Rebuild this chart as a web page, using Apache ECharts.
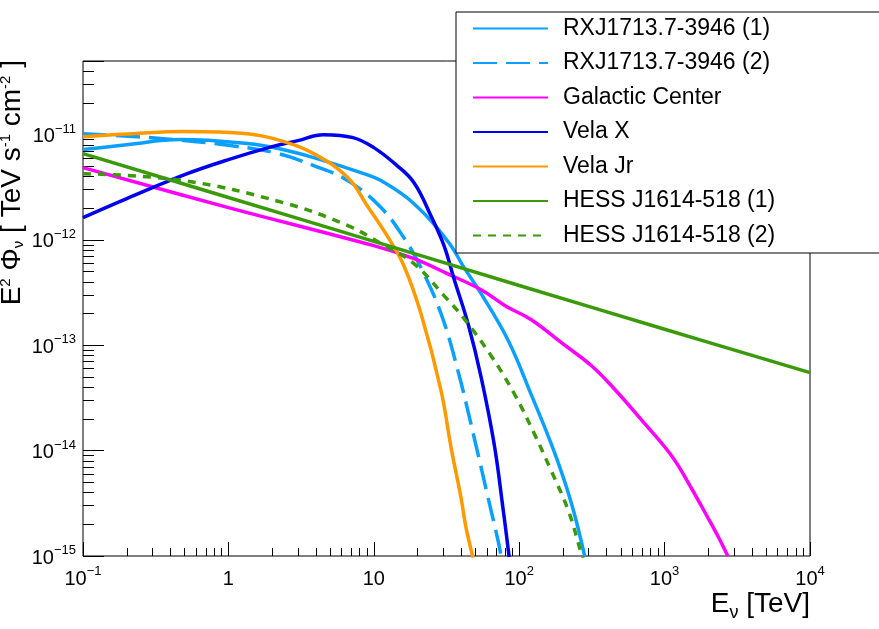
<!DOCTYPE html>
<html>
<head>
<meta charset="utf-8">
<script src="https://cdn.jsdelivr.net/npm/echarts@6/dist/echarts.min.js"></script>
<style>
  html, body { margin: 0; padding: 0; background: #fff; }
  #container { width: 879px; height: 629px; }
</style>
</head>
<body>
<div id="container"></div>
<script>
// legend names
var seriesNames = ['RXJ1713.7-3946 (1)', 'RXJ1713.7-3946 (2)', 'Galactic Center', 'Vela X', 'Vela Jr', 'HESS J1614-518 (1)', 'HESS J1614-518 (2)'];

// energies [TeV] and E^2 flux [TeV s^-1 cm^-2]
var eRxj1 = [0.1, 0.2, 0.467, 1.35, 2.28, 3.86, 8.53, 11.2, 18.9, 32.4, 41.8, 54.7, 84, 121, 174, 228, 283];
var fRxj1 = [7.21e-12, 8.03e-12, 8.97e-12, 8.22e-12, 7.3e-12, 6.05e-12, 4.27e-12, 3.66e-12, 2.21e-12, 9.64e-13, 5.46e-13, 3.09e-13, 1.11e-13, 3.4e-14, 9.77e-15, 3.2e-15, 0.98e-15];

var eRxj2 = [0.1, 0.356, 1.03, 2.2, 3.86, 6.62, 11.2, 16.1, 21.1, 29.0, 37.9, 49, 61.1, 71.6, 75];
var fRxj2 = [1.02e-11, 9.16e-12, 7.87e-12, 6.6e-12, 5.08e-12, 3.66e-12, 2.03e-12, 1.05e-12, 5.46e-13, 2.0e-13, 5.74e-14, 1.33e-14, 3.57e-15, 1.39e-15, 1.0e-15];

var eGc = [0.1, 1, 10, 18.9, 32, 54.7, 80, 121, 195, 314, 431, 693, 1117, 1535, 1950, 2357, 2718];
var fGc = [4.86e-12, 2.03e-12, 8.83e-13, 6.64e-13, 4.79e-13, 3.37e-13, 2.38e-13, 1.75e-13, 1.06e-13, 6.4e-14, 4.13e-14, 1.96e-14, 8.94e-15, 4.35e-15, 2.41e-15, 1.49e-15, 1.0e-15];

var eVelaX = [0.1, 0.2, 0.5, 1, 2, 3, 4.5, 7.2, 10, 14.2, 18.9, 24.7, 30.4, 35.6, 44.5, 54.7, 67.3, 77.6, 85.3];
var fVelaX = [1.63e-12, 2.47e-12, 4.17e-12, 5.79e-12, 7.69e-12, 8.77e-12, 1.0e-11, 9.37e-12, 7.53e-12, 5.19e-12, 3.5e-12, 1.7e-12, 8.83e-13, 4.29e-13, 1.6e-13, 5.0e-14, 1.15e-14, 2.75e-15, 0.98e-15];

var eVelaJr = [0.1, 0.22, 0.49, 1.35, 2.29, 3.86, 6.62, 9.1, 12.7, 16.1, 21.1, 29.0, 34.0, 39.8, 43.1, 48.2];
var fVelaJr = [9.57e-12, 1.02e-11, 1.07e-11, 1.02e-11, 8.77e-12, 6.6e-12, 3.91e-12, 2.07e-12, 1.03e-12, 5.7e-13, 2.0e-13, 3.71e-14, 1.07e-14, 3.57e-15, 1.85e-15, 0.96e-15];

var eHess1 = [0.1, 1, 10, 100, 1000, 10000];
var fHess1 = [6.6e-12, 2.53e-12, 9.7e-13, 3.7e-13, 1.42e-13, 5.5e-14];

var eHess2 = [0.1, 0.49, 2.39, 6.62, 11.2, 18.9, 30.4, 41.8, 64.1, 92.5, 127, 166, 218, 268, 276];
var fHess2 = [4.26e-12, 3.66e-12, 2.26e-12, 1.37e-12, 9.23e-13, 5.96e-13, 2.96e-13, 1.79e-13, 7.96e-14, 3.47e-14, 1.45e-14, 6.44e-15, 2.69e-15, 1.05e-15, 0.95e-15];

var xMin = 0.1, xMax = 10000;
var yMin = 1e-15, yMax = 5e-11;

var FONT = '"Liberation Sans", Arial, Helvetica, sans-serif';

function zip(xs, ys) {
  return xs.map(function (x, i) { return [x, ys[i]]; });
}

// minor ticks at 2..9 of every decade, in log10 units
function minorTicks(lo, hi) {
  var out = [];
  for (var d = Math.floor(lo); d < Math.ceil(hi); d++) {
    for (var m = 2; m <= 9; m++) {
      var v = d + Math.log10(m);
      if (v > lo && v < hi - 1e-3) out.push(v);
    }
  }
  return out;
}

function powLabel(v, plainSmall) {
  var e = Math.log10(v);
  var r = Math.round(e);
  if (Math.abs(e - r) > 1e-6) return '';
  if (plainSmall && r === 0) return '{b|1}';
  if (plainSmall && r === 1) return '{b|10}';
  return '{b|10}{s|' + (r < 0 ? '\u2212' : '') + Math.abs(r) + '}';
}

var tickRich = {
  b: { fontSize: 20, fontFamily: FONT, color: '#000', lineHeight: 24, verticalAlign: 'bottom' },
  s: { fontSize: 13, fontFamily: FONT, color: '#000', lineHeight: 24, verticalAlign: 'top' }
};

var lightBlue = '#0aa0ff';

function lineSeries(name, xs, ys, color, type) {
  return {
    name: name,
    type: 'line',
    xAxisIndex: 0,
    yAxisIndex: 0,
    data: zip(xs, ys),
    showSymbol: false,
    symbol: 'none',
    smooth: 0.4,
    clip: true,
    lineStyle: { color: color, width: 3.5, type: type || 'solid' },
    itemStyle: { color: color }
  };
}

var dom = document.getElementById('container');
var myChart = echarts.init(dom, null, { renderer: 'canvas' });

var option = {
  animation: false,
  backgroundColor: '#fff',
  grid: {
    left: 83, right: 69, top: 61, bottom: 73,
    show: true, borderColor: '#000', borderWidth: 1, backgroundColor: 'transparent'
  },
  legend: {
    orient: 'vertical',
    left: 456,
    top: 12,
    selectedMode: false,
    backgroundColor: '#fff',
    borderColor: '#000',
    borderWidth: 1,
    padding: [5, 130, 6, 16],
    itemWidth: 75,
    itemHeight: 14,
    itemGap: 11.5,
    itemStyle: { opacity: 0 },
    textStyle: { fontSize: 23, fontFamily: FONT, color: '#000', lineHeight: 22, padding: [0, 0, 0, 10] },
    data: seriesNames
  },
  xAxis: [
    {
      type: 'log',
      min: xMin, max: xMax,
      position: 'bottom',
      axisLine: { show: false, onZero: false },
      splitLine: { show: false },
      axisTick: { show: true, inside: true, length: 14, lineStyle: { color: '#000', width: 1 } },
      axisLabel: {
        margin: 9,
        formatter: function (v) { return powLabel(v, true); },
        rich: tickRich
      },
      name: '{t|E}{sub|\u03bd}{t| [TeV]}',
      nameLocation: 'end',
      nameGap: 0,
      nameTextStyle: {
        align: 'right', verticalAlign: 'top', padding: [34, 0, 0, 0],
        rich: {
          t: { fontSize: 28, fontFamily: FONT, color: '#000', lineHeight: 32, verticalAlign: 'top' },
          sub: { fontSize: 18, fontFamily: FONT, color: '#000', lineHeight: 32, verticalAlign: 'bottom' }
        }
      }
    },
    {
      type: 'value',
      min: Math.log10(xMin), max: Math.log10(xMax),
      position: 'bottom',
      axisLine: { show: false, onZero: false },
      splitLine: { show: false },
      axisLabel: { show: false },
      axisTick: { show: true, inside: true, length: 8, customValues: minorTicks(Math.log10(xMin), Math.log10(xMax)), lineStyle: { color: '#000', width: 1 } }
    }
  ],
  yAxis: [
    {
      type: 'log',
      min: yMin, max: yMax,
      position: 'left',
      axisLine: { show: false, onZero: false },
      splitLine: { show: false },
      axisTick: { show: true, inside: true, length: 21, lineStyle: { color: '#000', width: 1 } },
      axisLabel: {
        margin: 7,
        formatter: function (v) { return powLabel(v, false); },
        rich: tickRich
      }
    },
    {
      type: 'value',
      min: Math.log10(yMin), max: Math.log10(yMax),
      position: 'left',
      axisLine: { show: false, onZero: false },
      splitLine: { show: false },
      axisLabel: { show: false },
      axisTick: { show: true, inside: true, length: 11, customValues: minorTicks(Math.log10(yMin), Math.log10(yMax)), lineStyle: { color: '#000', width: 1 } }
    }
  ],
  graphic: [
    {
      type: 'text',
      x: 12,
      y: 60,
      rotation: Math.PI / 2,
      style: {
        text: '{t|E}{sup|2}{t| \u03a6}{sub|\u03bd}{t| [ TeV s}{sup|-1}{t| cm}{sup|-2}{t| ]}',
        align: 'right',
        verticalAlign: 'middle',
        rich: {
          t: { fontSize: 28, fontFamily: FONT, fill: '#000', lineHeight: 28, verticalAlign: 'middle' },
          sup: { fontSize: 15, fontFamily: FONT, fill: '#000', lineHeight: 28, verticalAlign: 'top' },
          sub: { fontSize: 15, fontFamily: FONT, fill: '#000', lineHeight: 28, verticalAlign: 'bottom' }
        }
      }
    }
  ],
  series: [
    lineSeries(seriesNames[0], eRxj1, fRxj1, lightBlue),
    lineSeries(seriesNames[1], eRxj2, fRxj2, lightBlue, [24, 9]),
    lineSeries(seriesNames[2], eGc, fGc, '#ff00ff'),
    lineSeries(seriesNames[3], eVelaX, fVelaX, '#0000f0'),
    lineSeries(seriesNames[4], eVelaJr, fVelaJr, '#ff9900'),
    lineSeries(seriesNames[5], eHess1, fHess1, '#3a9a0a'),
    lineSeries(seriesNames[6], eHess2, fHess2, '#3a9a0a', [8, 7])
  ]
};

if (option && typeof option === 'object') {
  myChart.setOption(option, true);
}
</script>
</body>
</html>
